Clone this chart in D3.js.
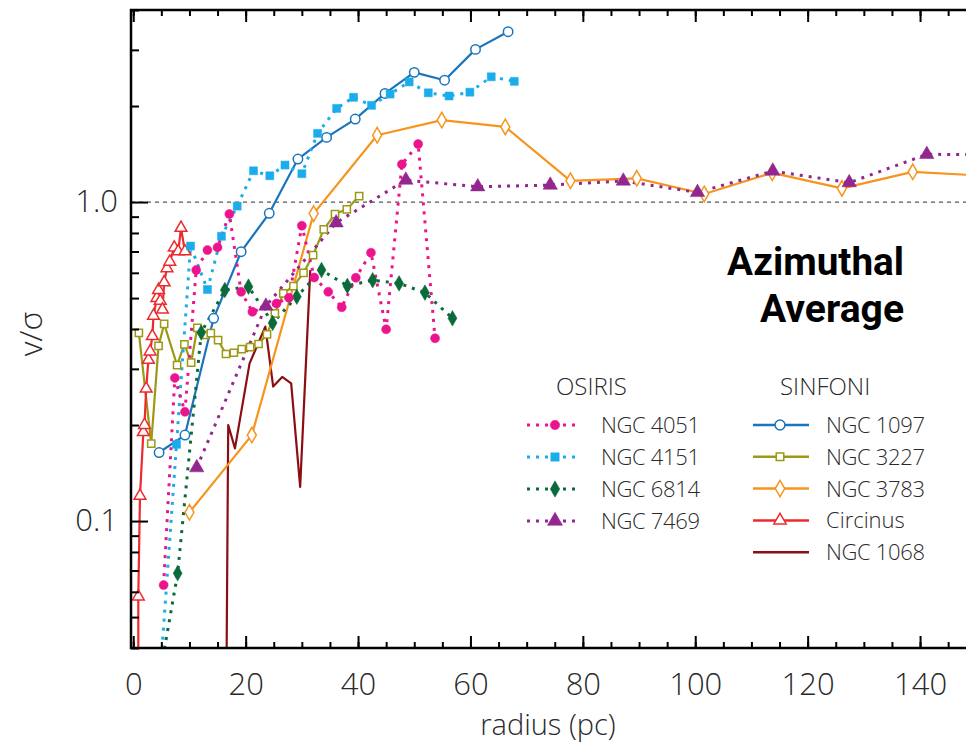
<!DOCTYPE html>
<html><head><meta charset="utf-8">
<script src="https://cdn.jsdelivr.net/npm/d3@7"></script>
<style>
html,body{margin:0;padding:0;background:#fff;}
svg{display:block;}
</style></head>
<body><svg id="chart" width="966" height="745"></svg>
<script>
// ---------- data (radius pc, v/sigma) ----------
const ngc4051 = [[5.4,0.063],[7.4,0.281],[9.2,0.22],[11.2,0.612],[13.2,0.707],[15.0,0.721],[17.1,0.917],[19.2,0.523],[21.2,0.453],[25.5,0.481],[27.7,0.501],[30.0,0.843],[32.2,0.58],[34.7,0.523],[37.1,0.468],[39.6,0.579],[42.3,0.694],[45.0,0.399],[47.8,1.313],[50.7,1.52],[53.7,0.374]];
const ngc4151 = [[4.9,0.035],[7.7,0.174],[10.2,0.728],[13.2,0.532],[15.7,0.781],[18.5,0.971],[21.4,1.253],[24.3,1.209],[27.0,1.306],[30.0,1.227],[32.8,1.642],[36.2,1.966],[39.2,2.13],[42.4,2.01],[45.7,2.18],[49.1,2.38],[52.5,2.20],[56.2,2.15],[59.9,2.21],[63.7,2.47],[67.8,2.39]];
const ngc6814 = [[5.0,0.035],[7.9,0.0686],[12.1,0.39],[16.3,0.53],[20.5,0.543],[24.8,0.418],[29.1,0.505],[33.5,0.612],[38.1,0.546],[42.6,0.569],[47.3,0.556],[51.9,0.52],[56.8,0.432]];
const ngc7469 = [[11.3,0.147],[23.6,0.472],[36.1,0.861],[48.5,1.172],[61.3,1.117],[74.2,1.13],[87.2,1.164],[100.4,1.072],[113.8,1.251],[127.4,1.15],[141.2,1.411],[154.5,1.41]];
const ngc1097 = [[4.6,0.164],[9.2,0.186],[14.3,0.432],[19.2,0.699],[24.2,0.922],[29.3,1.364],[34.4,1.595],[39.5,1.82],[44.8,2.19],[50.0,2.55],[55.4,2.41],[60.9,3.01],[66.7,3.42]];
const ngc3227 = [[1.0,0.389],[3.2,0.175],[4.5,0.354],[5.5,0.415],[7.8,0.308],[9.1,0.358],[10.3,0.314],[11.4,0.403],[12.8,0.383],[13.8,0.388],[15.1,0.369],[16.5,0.334],[17.9,0.337],[19.3,0.346],[20.8,0.351],[22.3,0.359],[23.8,0.385],[25.2,0.448],[26.7,0.517],[28.5,0.545],[30.3,0.60],[32.0,0.682],[33.9,0.821],[35.9,0.917],[38.0,0.949],[40.2,1.044]];
const ngc3783 = [[10.0,0.1065],[21.1,0.186],[32.1,0.92],[43.4,1.62],[54.9,1.807],[66.2,1.72],[77.8,1.166],[89.6,1.187],[101.6,1.06],[113.7,1.235],[126.1,1.104],[138.7,1.244],[151.0,1.21]];
const circinus = [[0.9,0.03],[0.9,0.058],[1.2,0.12],[1.8,0.19],[2.0,0.20],[2.3,0.26],[2.7,0.32],[3.0,0.34],[3.4,0.38],[3.6,0.44],[4.2,0.50],[4.5,0.53],[4.8,0.49],[5.2,0.46],[5.5,0.56],[6.0,0.62],[6.5,0.65],[7.3,0.72],[8.0,0.70],[8.5,0.83],[9.2,0.70]];
const ngc1068 = [[16.5,0.02],[16.9,0.20],[18.1,0.169],[20.7,0.312],[23.5,0.407],[24.9,0.264],[26.5,0.283],[28.1,0.27],[29.7,0.128],[31.5,0.612]];

const xMajorTicks = [0,20,40,60,80,100,120,140];
const yMajorTicks = [0.1,1.0];
const yTickLabels = ["0.1","1.0"];
const yMinorTicks = [0.04,0.05,0.06,0.07,0.08,0.09,0.2,0.3,0.4,0.5,0.6,0.7,0.8,0.9,2,3,4];
const osirisNames = ["NGC 4051","NGC 4151","NGC 6814","NGC 7469"];
const sinfoniNames = ["NGC 1097","NGC 3227","NGC 3783","Circinus","NGC 1068"];

// ---------- styles ----------
const series = [
  {name:"NGC 3227", data:ngc3227, color:"#9C9A14", dotted:false, sym:d3.symbolSquare, size:52, filled:false},
  {name:"NGC 1068", data:ngc1068, color:"#8B0F12", dotted:false, sym:null},
  {name:"Circinus", data:circinus, color:"#EE2A2E", dotted:false, sym:d3.symbolTriangle, size:60, filled:false},
  {name:"NGC 3783", data:ngc3783, color:"#F7941D", dotted:false, sym:d3.symbolDiamond, size:70, filled:false},
  {name:"NGC 1097", data:ngc1097, color:"#1B75BC", dotted:false, sym:d3.symbolCircle, size:70, filled:false},
  {name:"NGC 7469", data:ngc7469, color:"#92278F", dotted:true, sym:d3.symbolTriangle, size:90, filled:true},
  {name:"NGC 6814", data:ngc6814, color:"#0B6A3A", dotted:true, sym:d3.symbolDiamond, size:70, filled:true},
  {name:"NGC 4151", data:ngc4151, color:"#1BADEB", dotted:true, sym:d3.symbolSquare, size:64, filled:true},
  {name:"NGC 4051", data:ngc4051, color:"#EC148C", dotted:true, sym:d3.symbolCircle, size:64, filled:true}
];
const byName = Object.fromEntries(series.map(s=>[s.name,s]));

const svg = d3.select("#chart");
const L = 131, T = 10, B = 648;
const x = d3.scaleLinear().domain([-0.4,150]).range([L, L+150.4*5.62]);
const y = d3.scaleLog().domain([0.04,4]).range([B, T]);
const font = "'Open Sans', 'DejaVu Sans', sans-serif";
const ink = "#2a2a2a";

svg.append("defs").append("clipPath").attr("id","plotclip")
  .append("rect").attr("x",L).attr("y",T).attr("width",966-L).attr("height",B-T);

// dashed line at 1.0
svg.append("line").attr("x1",L).attr("x2",966).attr("y1",y(1)).attr("y2",y(1))
  .attr("stroke","#555").attr("stroke-width",1.2).attr("stroke-dasharray","4 4");

// data
const plot = svg.append("g").attr("clip-path","url(#plotclip)");
const line = d3.line().x(d=>x(d[0])).y(d=>y(d[1]));
series.forEach(s=>{
  plot.append("path").attr("d",line(s.data)).attr("fill","none")
    .attr("stroke",s.color)
    .attr("stroke-width", s.dotted?3:2.2)
    .attr("stroke-dasharray", s.dotted?"3 6":null)
    .attr("stroke-linejoin","round");
});
series.forEach(s=>{
  if(!s.sym) return;
  plot.selectAll(null).data(s.data).enter().append("path")
    .attr("d", d3.symbol().type(s.sym).size(s.size))
    .attr("transform", d=>`translate(${x(d[0])},${y(d[1])})`)
    .attr("fill", s.filled? s.color : "#fff")
    .attr("stroke", s.color)
    .attr("stroke-width", s.filled?0.5:1.5);
});

// axes
function styleAxis(g){
  g.select(".domain").remove();
  g.selectAll(".tick line").attr("stroke","#000").attr("stroke-width",2);
  g.selectAll(".tick text").attr("fill",ink).attr("font-family",font).attr("font-weight",300);
}
const xMinor = d3.range(0,151,5);
svg.append("g").attr("transform",`translate(0,${B})`)
  .call(d3.axisBottom(x).tickValues(xMinor).tickSize(-6).tickFormat(""))
  .call(styleAxis);
svg.append("g").attr("transform",`translate(0,${B})`)
  .call(d3.axisBottom(x).tickValues(xMajorTicks).tickSize(-12).tickPadding(25).tickFormat(d3.format("d")))
  .call(styleAxis)
  .call(g=>g.selectAll(".tick text").attr("font-size",31));
svg.append("g").attr("transform",`translate(0,${T})`)
  .call(d3.axisTop(x).tickValues(xMinor).tickSize(-6).tickFormat(""))
  .call(styleAxis);
svg.append("g").attr("transform",`translate(0,${T})`)
  .call(d3.axisTop(x).tickValues(xMajorTicks).tickSize(-12).tickFormat(""))
  .call(styleAxis);
svg.append("g").attr("transform",`translate(${L},0)`)
  .call(d3.axisLeft(y).tickValues(yMinorTicks).tickSize(-8).tickFormat(""))
  .call(styleAxis);
svg.append("g").attr("transform",`translate(${L},0)`)
  .call(d3.axisLeft(y).tickValues(yMajorTicks).tickSize(-17).tickPadding(13).tickFormat((d,i)=>yTickLabels[i]))
  .call(styleAxis)
  .call(g=>g.selectAll(".tick text").attr("font-size",31));

// frame
svg.append("path").attr("d",`M966,${T}H${L}V${B}H966`).attr("fill","none")
  .attr("stroke","#000").attr("stroke-width",2.5);

// axis titles
svg.append("text").attr("x",548).attr("y",735).attr("text-anchor","middle")
  .attr("font-family",font).attr("font-weight",300).attr("font-size",29).attr("fill",ink)
  .text("radius (pc)");
svg.append("text").attr("transform","translate(42,334) rotate(-90)").attr("text-anchor","middle")
  .attr("font-family",font).attr("font-weight",300).attr("font-size",32).attr("fill",ink)
  .text("v/σ");

// annotation
const ann = svg.append("g").attr("font-family","Roboto, 'Liberation Sans', sans-serif")
  .attr("font-weight",700).attr("font-size",38).attr("fill","#000").attr("text-anchor","end");
ann.append("text").attr("x",904).attr("y",275).attr("textLength",177).attr("lengthAdjust","spacingAndGlyphs").text("Azimuthal");
ann.append("text").attr("x",904).attr("y",322).attr("textLength",144).attr("lengthAdjust","spacingAndGlyphs").text("Average");

// legend
const leg = svg.append("g").attr("font-family",font).attr("fill",ink);
leg.append("text").attr("x",556).attr("y",395).attr("font-size",24).attr("font-weight",300).text("OSIRIS");
leg.append("text").attr("x",780).attr("y",395).attr("font-size",24).attr("font-weight",300).text("SINFONI");
function legendRow(name, lx0, lx1, mx, tx, ry){
  const s = byName[name];
  leg.append("line").attr("x1",lx0).attr("x2",lx1).attr("y1",ry).attr("y2",ry)
    .attr("stroke",s.color).attr("stroke-width",s.dotted?3:2.5)
    .attr("stroke-dasharray",s.dotted?"3 6":null);
  if(s.sym){
    leg.append("path").attr("d",d3.symbol().type(s.sym).size(s.size*1.1))
      .attr("transform",`translate(${mx},${ry})`)
      .attr("fill",s.filled?s.color:"#fff").attr("stroke",s.color).attr("stroke-width",s.filled?0.5:1.5);
  }
  const t = leg.append("text").attr("x",tx).attr("y",ry+8).attr("font-size",22).attr("font-weight",300).text(name);
  if(name.startsWith("NGC")) t.attr("textLength",99).attr("lengthAdjust","spacing");
}
osirisNames.forEach((n,i)=>legendRow(n,527,579,555,601,425+i*32));
sinfoniNames.forEach((n,i)=>legendRow(n,753,809,780,826,425+i*31.8));
</script></body></html>
